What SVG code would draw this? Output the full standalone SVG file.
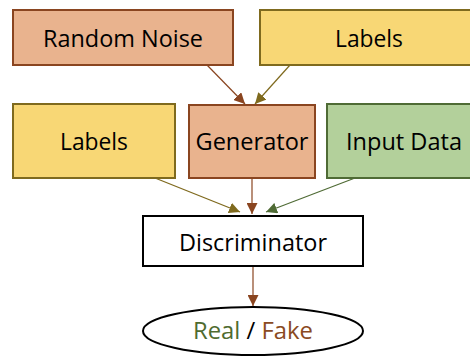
<svg xmlns="http://www.w3.org/2000/svg" width="470" height="356" viewBox="0 0 470 356">
  <style>
    .lbl { font-family: "Open Sans", "Liberation Sans", sans-serif; font-size: 23px; fill: #000; text-anchor: middle; }
    .orange { fill: #E9B38E; stroke: #8A4520; stroke-width: 2; }
    .yellow { fill: #F8D775; stroke: #7F6A1E; stroke-width: 2; }
    .green { fill: #B3D09B; stroke: #4F6B35; stroke-width: 2; }
    .plain { fill: #FFFFFF; stroke: #000; stroke-width: 2; }
    .edge { fill: none; stroke-width: 1.2; }
  </style>
  <defs>
    <marker id="ah-brown" viewBox="0 0 10 10" refX="10" refY="5" markerWidth="11" markerHeight="11" markerUnits="userSpaceOnUse" orient="auto">
      <path d="M0,0 L10,5 L0,10 z" fill="#8A4520"/>
    </marker>
    <marker id="ah-olive" viewBox="0 0 10 10" refX="10" refY="5" markerWidth="11" markerHeight="11" markerUnits="userSpaceOnUse" orient="auto">
      <path d="M0,0 L10,5 L0,10 z" fill="#7F6A1E"/>
    </marker>
    <marker id="ah-green" viewBox="0 0 10 10" refX="10" refY="5" markerWidth="11" markerHeight="11" markerUnits="userSpaceOnUse" orient="auto">
      <path d="M0,0 L10,5 L0,10 z" fill="#4F6B35"/>
    </marker>
  </defs>
  <rect width="470" height="356" fill="#FFFFFF"/>

  <g id="connectors">
    <line class="edge" x1="207" y1="65" x2="245" y2="104" stroke="#8A4520" marker-end="url(#ah-brown)"/>
    <line class="edge" x1="290" y1="65" x2="255" y2="104" stroke="#7F6A1E" marker-end="url(#ah-olive)"/>
    <line class="edge" x1="155" y1="178" x2="240" y2="212" stroke="#7F6A1E" marker-end="url(#ah-olive)"/>
    <line class="edge" x1="252" y1="178" x2="252" y2="214" stroke="#8A4520" marker-end="url(#ah-brown)"/>
    <line class="edge" x1="355" y1="178" x2="266" y2="212" stroke="#4F6B35" marker-end="url(#ah-green)"/>
    <line class="edge" x1="253" y1="266" x2="253" y2="306" stroke="#8A4520" marker-end="url(#ah-brown)"/>
  </g>

  <g id="random-noise">
    <rect class="orange" x="13" y="10" width="220" height="55"/>
    <text class="lbl" x="123" y="47" textLength="160" lengthAdjust="spacingAndGlyphs">Random Noise</text>
  </g>
  <g id="labels-top">
    <rect class="yellow" x="260" y="10" width="220" height="55"/>
    <text class="lbl" x="369" y="47" textLength="68" lengthAdjust="spacingAndGlyphs">Labels</text>
  </g>
  <g id="labels-side">
    <rect class="yellow" x="13" y="104" width="162" height="74"/>
    <text class="lbl" x="94" y="150" textLength="68" lengthAdjust="spacingAndGlyphs">Labels</text>
  </g>
  <g id="generator">
    <rect class="orange" x="189" y="105" width="126" height="73"/>
    <text class="lbl" x="252" y="150" textLength="113" lengthAdjust="spacingAndGlyphs">Generator</text>
  </g>
  <g id="input-data">
    <rect class="green" x="327" y="104" width="155" height="74"/>
    <text class="lbl" x="404" y="150" textLength="116" lengthAdjust="spacingAndGlyphs">Input Data</text>
  </g>
  <g id="discriminator">
    <rect class="plain" x="143" y="216" width="220" height="50"/>
    <text class="lbl" x="253" y="251" textLength="148" lengthAdjust="spacingAndGlyphs">Discriminator</text>
  </g>
  <g id="result">
    <ellipse cx="253" cy="331" rx="110" ry="24" fill="#FFFFFF" stroke="#000" stroke-width="2"/>
    <text class="lbl" x="253" y="339" textLength="120" lengthAdjust="spacingAndGlyphs"><tspan fill="#4F6B2F">Real</tspan> / <tspan fill="#8A4A22">Fake</tspan></text>
  </g>
</svg>
